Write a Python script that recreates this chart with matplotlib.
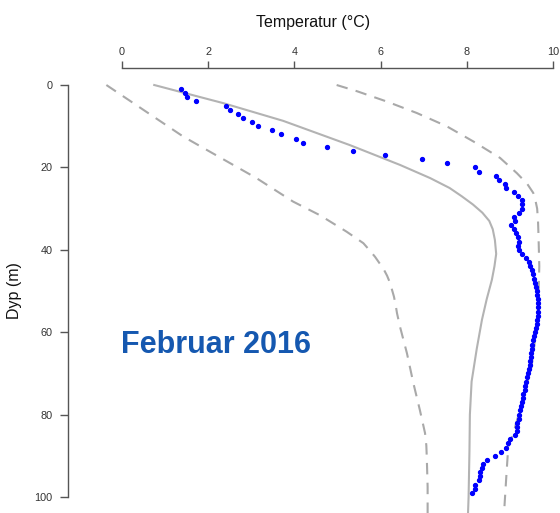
import numpy as np
import matplotlib
matplotlib.use("Agg")
import matplotlib.pyplot as plt

plt.rcParams['font.family'] = ['Liberation Sans', 'DejaVu Sans']

# Målt temperatur (februar 2016), ett punkt per meter
obs_depth = list(range(1, 100))
obs_temp = [1.36, 1.46, 1.52, 1.72, 2.41, 2.51, 2.70, 2.81, 3.02, 3.15,
            3.48, 3.68, 4.04, 4.19, 4.76, 5.35, 6.09, 6.95, 7.53, 8.20,
            8.27, 8.67, 8.74, 8.89, 8.90, 9.10, 9.19, 9.27, 9.28, 9.28,
            9.20, 9.10, 9.12, 9.03, 9.10, 9.14, 9.19, 9.20, 9.19, 9.20,
            9.28, 9.37, 9.43, 9.46, 9.50, 9.53, 9.55, 9.57, 9.61, 9.62,
            9.62, 9.64, 9.64, 9.66, 9.66, 9.64, 9.62, 9.62, 9.61, 9.57,
            9.55, 9.53, 9.51, 9.50, 9.49, 9.49, 9.47, 9.47, 9.44, 9.42,
            9.39, 9.36, 9.34, 9.34, 9.31, 9.31, 9.28, 9.26, 9.24, 9.22,
            9.20, 9.17, 9.16, 9.16, 9.11, 9.00, 8.95, 8.91, 8.80, 8.65,
            8.47, 8.37, 8.36, 8.31, 8.31, 8.29, 8.20, 8.20, 8.11]

# Middelprofil
mean_depth = [0, 4.4, 8.7, 14.6, 19.4, 22.6, 25, 27, 29, 31, 33, 35, 37.6,
              41, 44, 47.3, 52, 57, 64, 72, 80, 89, 100, 106]
mean_temp = [0.75, 2.35, 3.74, 5.29, 6.45, 7.15, 7.6, 7.88, 8.14, 8.36, 8.52,
             8.6, 8.65, 8.68, 8.64, 8.58, 8.46, 8.35, 8.23, 8.11, 8.07, 8.06,
             8.04, 8.02]

# Maks- og minimumsprofil
max_depth = [0, 1.5, 4.0, 6.8, 10.0, 13.7, 17.7, 21.4, 24, 26.2, 28, 30, 33,
             36, 44, 52, 56, 62, 68.4, 74, 78.9, 84.5, 87.8, 94.2, 106]
max_temp = [4.98, 5.45, 6.14, 6.84, 7.53, 8.15, 8.77, 9.16, 9.4, 9.54, 9.59,
            9.63, 9.65, 9.66, 9.68, 9.66, 9.64, 9.58, 9.5, 9.36, 9.23, 9.08,
            8.96, 8.92, 8.85]

min_depth = [0, 12.5, 22.6, 28.3, 31.6, 35.6, 38.4, 40.2, 41.7, 43.2,
             44.5, 46.3, 48.1, 51.4, 53.5, 55.4, 58.7, 65.1, 72.4, 78.9, 84.5,
             87.5, 90.2, 97.5, 106]
min_temp = [-0.36, 1.42, 3.12, 3.97, 4.59, 5.21, 5.60, 5.75, 5.87, 5.97,
            6.06, 6.15, 6.22, 6.31, 6.35, 6.38, 6.45, 6.61, 6.76, 6.91, 7.03,
            7.06, 7.07, 7.09, 7.09]

x_ticks = [0, 2, 4, 6, 8, 10]
y_ticks = [0, 20, 40, 60, 80, 100]

fig = plt.figure(figsize=(5.6, 5.13), dpi=100)
ax = fig.add_axes([68 / 560, 0, 492 / 560, 1 - 68 / 513])

dash = (0, (5.5, 4))
ax.plot(mean_temp, mean_depth, color='#b3b3b3', lw=1.5, zorder=2)
ax.plot(max_temp, max_depth, color='#a9a9a9', lw=1.5, ls=dash, zorder=2)
ax.plot(min_temp, min_depth, color='#a9a9a9', lw=1.5, ls=dash, zorder=2)
ax.plot(obs_temp, obs_depth, ls='none', marker='o', ms=2.8, color='#0000ff',
        mec='#0000ff', zorder=3)

ax.set_xlim(-1.25, 10.16)
ax.set_ylim(103.9, -4.13)

for s in ['right', 'bottom']:
    ax.spines[s].set_visible(False)
ax.spines['top'].set_bounds(0, 10)
ax.spines['left'].set_bounds(0, 100)
for s in ['top', 'left']:
    ax.spines[s].set_color('#555555')
    ax.spines[s].set_linewidth(1.0)

ax.xaxis.tick_top()
ax.set_xticks(x_ticks)
ax.set_yticks(y_ticks)
ax.tick_params(axis='x', length=5, width=1, color='#555555', pad=3,
               labelsize=7.8, labelcolor='#333333')
ax.tick_params(axis='y', length=6, width=1, color='#555555', pad=5,
               labelsize=7.8, labelcolor='#333333')

fig.text(313 / 560, 1 - 22 / 513, 'Temperatur (°C)', ha='center', va='center',
         fontsize=11.5, color='#111111')
fig.text(15 / 560, 1 - 291 / 513, 'Dyp (m)', ha='center', va='center',
         rotation=90, fontsize=11.5, color='#111111')

ax.text(0.2998, 1 - (345 - 68) / 445, 'Februar 2016', transform=ax.transAxes,
        ha='center', va='center', fontsize=22, fontweight='bold',
        color='#1558b0')

fig.savefig('out.png', dpi=100)
